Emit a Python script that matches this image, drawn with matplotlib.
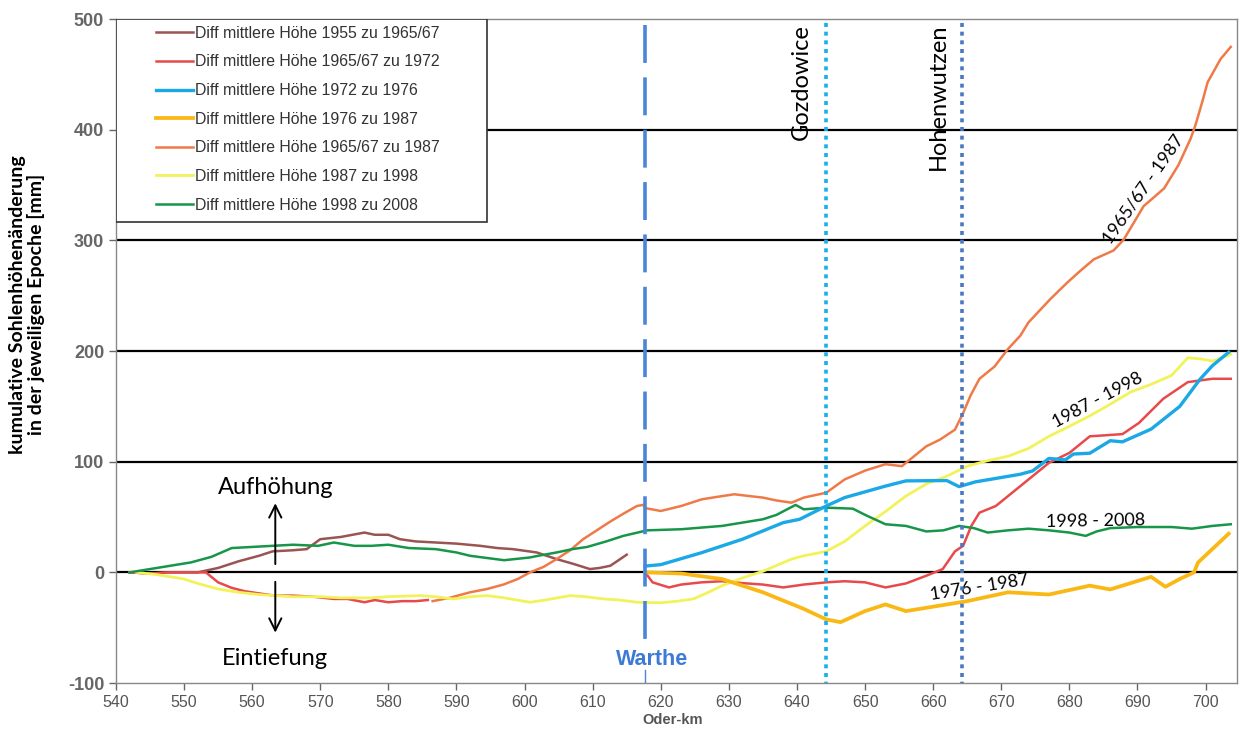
import numpy as np
import matplotlib.pyplot as plt
from matplotlib.patches import Rectangle

plt.rcParams['axes.unicode_minus'] = False

# ---- data (Oder-km, cumulative change in mm) ----
brown_km = [542, 545, 548, 552, 555, 558, 561, 563, 566, 568, 570, 573, 576.5, 578, 580, 581.7,
            584, 587, 590, 593.5, 596, 598.3, 601.8, 604.7, 607, 609.6, 611, 612.6, 615]
brown_mm = [0, -1, 0, 0, 4, 10, 15, 19, 20, 21, 30, 32, 36, 34, 34, 30,
            28, 27, 26, 24, 22, 21, 18, 12, 8, 3, 4, 6, 16]

red_km = [542, 545, 548, 551, 553.2, 555, 557, 558.9, 561, 563.3, 566, 569, 572, 574, 576.5, 578,
          580, 582, 584, 585.8, np.nan,
          617.7, 618.8, 621.2, 623, 626, 629, 632, 635, 638, 641, 644.3, 647, 650, 653, 656, 659,
          661.4, 663.2, 664.4, 665.6, 666.8, 669.2, 671, 674, 677, 680, 683, 685.5, 687.8, 690.2,
          693.8, 697.4, 701, 703.7]
red_mm = [0, -1, 0, 0, 0, -9, -14, -17, -19, -21, -21, -22, -24, -24, -27, -25,
          -27, -26, -26, -25, np.nan,
          0, -9, -13.6, -11, -9, -8, -9.7, -11, -13.6, -11, -9, -8, -9, -13.6, -10, -3,
          3, 19, 24, 42, 54, 60, 69, 84, 99, 108, 123, 124, 125, 135,
          157, 172, 175, 175]

blue_km = [617.7, 620, 626, 632, 638, 640.4, 644.3, 647, 653, 656, 662, 663.8, 666.2, 672.8, 674.6,
           677, 679.4, 680.6, 683, 686, 687.8, 692, 696.2, 699.2, 701, 703.4]
blue_mm = [5.7, 7, 17.8, 30, 45, 48, 60, 67.6, 78, 82.7, 83, 77.5, 81.8, 88.7, 91.7,
           103, 101.7, 107, 107.7, 119, 118, 129.5, 150, 174.7, 186.8, 199]

gold_km = [617.7, 623, 629, 635, 641, 644.3, 646.4, 650, 653, 656, 662, 665, 671, 677, 683, 686,
           692, 694.1, 696.2, 698.3, 698.9, 703.4]
gold_mm = [0, -1, -6, -18, -33, -42.5, -45, -35, -29, -35, -29, -26, -18, -20, -12, -15.4,
           -4, -13, -6, 0, 9, 35]

orange_km = [586.5, 589, 592, 594.5, 596.9, 599, 600.8, 602.8, 604.7, 606.7, 608.6, 610.6, 612.6,
             614.5, 616.5, 617.4, 617.8, 620, 623, 626, 628, 630.8, 633, 635, 637, 639.2, 641,
             644.3, 647, 650, 653, 655.4, 657, 659, 661, 663.2, 664.4, 665.5, 666.8, 669, 671,
             672.8, 674, 677.2, 679.7, 681.5, 683.6, 686.5, 688, 690.9, 693.9, 696, 697.8, 698.5,
             699.5, 700.3, 702.2, 703.7]
orange_mm = [-26, -23, -18, -15, -11, -6, 0, 5, 12, 20, 30, 38, 46,
             53, 60, 61, 58, 55.5, 60, 66, 68, 70.6, 69, 67.6, 65, 63, 67.6,
             72, 84, 92, 97.8, 96, 104, 114, 120, 129, 144, 160, 175, 186, 202,
             214, 226, 247, 262, 272, 283, 291, 301, 331, 347, 368, 392, 404,
             425, 443, 464, 475]

yellow_km = [543, 546, 548, 550, 552, 555, 558, 561, 563.3, 566, 570, 573, 577.3, 580, 584.7, 587,
             589.5, 592, 594.5, 597, 600.8, 603, 606.7, 609, 611.6, 614, 616.5, 620, 622.5, 624.8,
             627, 629, 632, 635, 639.2, 641, 644.3, 647, 650, 653, 656, 659, 662, 665, 668, 671,
             674, 677, 680, 683, 686, 689, 692, 695, 697.4, 699.2, 701, 703.7]
yellow_mm = [0, -2, -4, -6, -10, -15, -18, -20, -21, -22, -22, -23, -23, -22, -21, -22,
             -24, -22, -21, -23, -27, -25, -21, -22, -24, -25, -27, -27.5, -26, -24,
             -18, -12, -5, 1, 12, 15, 19, 28, 42, 55, 69, 80, 87, 96, 101, 105,
             112, 123, 132, 141.5, 152, 163, 170, 178, 194, 193, 191, 197]

green_km = [542, 545, 548, 551, 554, 557, 560, 563, 566, 569.7, 572, 575, 577.5, 580, 583, 587,
            590, 592, 594.5, 597, 600.8, 602, 604.7, 607, 609.2, 612, 614.5, 618, 623, 629, 632,
            635, 637, 639.8, 641, 644.3, 648.2, 650, 653, 656, 659, 661.5, 663.8, 666, 668, 671,
            674, 677, 680, 682.4, 684, 686, 690, 695, 698, 701, 703.7]
green_mm = [0, 3, 6, 9, 14, 22, 23, 24, 25, 24, 27, 24, 24, 25, 22, 21,
            18, 15, 13, 11, 13.5, 15, 18, 21, 23, 28, 33, 38, 39, 42, 45,
            48, 52, 61, 57, 58.5, 57.6, 52, 43.5, 42, 37, 38, 42, 40, 36, 38,
            39.5, 38, 36, 33, 37, 40, 41, 41, 39.5, 42, 43.5]

labels = ['Diff mittlere Höhe 1955 zu 1965/67',
          'Diff mittlere Höhe 1965/67 zu 1972',
          'Diff mittlere Höhe 1972 zu 1976',
          'Diff mittlere Höhe 1976 zu 1987',
          'Diff mittlere Höhe 1965/67 zu 1987',
          'Diff mittlere Höhe 1987 zu 1998',
          'Diff mittlere Höhe 1998 zu 2008']

warthe_km = 617.7
gozdowice_km = 644.3
hohenwutzen_km = 664.3

calibri = ['Lato', 'DejaVu Sans']
narrow = ['Liberation Sans Narrow', 'Liberation Sans']

fig = plt.figure(figsize=(12.4, 7.45), dpi=100)
ax = fig.add_axes([0.0935, 0.0832, 0.904, 0.891])

for yv in [0, 100, 200, 300, 400]:
    ax.axhline(yv, color='black', lw=1.6, zorder=1)

ax.plot(brown_km, brown_mm, color='#9b5454', lw=1.8, zorder=3, label=labels[0])
ax.plot(orange_km, orange_mm, color='#ef7a48', lw=1.8, zorder=3, label=labels[4])
ax.plot(red_km, red_mm, color='#e84a4c', lw=1.8, zorder=3, label=labels[1])
ax.plot(yellow_km, yellow_mm, color='#f2f25a', lw=2.0, zorder=3, label=labels[5])
ax.plot(green_km, green_mm, color='#17964a', lw=1.8, zorder=3, label=labels[6])
ax.plot(blue_km, blue_mm, color='#1aa8e6', lw=2.4, zorder=3, label=labels[2])
ax.plot(gold_km, gold_mm, color='#fab814', lw=2.7, zorder=3, label=labels[3])

# river marks
ax.plot([warthe_km, warthe_km], [495, -70], color='#4a86d8', lw=2.6,
        linestyle=(0, (10.5, 4)), zorder=4)
ax.plot([warthe_km, warthe_km], [-88, -100], color='#4a86d8', lw=1, zorder=4)
ax.text(warthe_km + 1, -79, 'Warthe', color='#3d7ad6', fontsize=15.5, fontweight='bold',
        family='Liberation Sans', ha='center', va='center')
ax.plot([gozdowice_km, gozdowice_km], [497, -100], color='#16b0ea', lw=2.6,
        linestyle=(0, (1.1, 1.3)), zorder=4)
ax.plot([hohenwutzen_km, hohenwutzen_km], [497, -100], color='#4a78c2', lw=2.6,
        linestyle=(0, (1.1, 1.3)), zorder=4)
ax.text(640.6, 496, 'Gozdowice', rotation=90, fontsize=17, family=calibri,
        ha='center', va='top')
ax.text(660.8, 496, 'Hohenwutzen', rotation=90, fontsize=17, family=calibri,
        ha='center', va='top')

# series labels
ax.text(690.8, 346, '1965/67 - 1987', rotation=55, fontsize=13, family=calibri,
        ha='center', va='center', rotation_mode='anchor')
ax.text(684.1, 156, '1987 - 1998', rotation=28, fontsize=13, family=calibri,
        ha='center', va='center', rotation_mode='anchor')
ax.text(683.8, 46.5, '1998 - 2008', rotation=1, fontsize=13, family=calibri,
        ha='center', va='center', rotation_mode='anchor')
ax.text(666.8, -13.5, '1976 - 1987', rotation=9, fontsize=13, family=calibri,
        ha='center', va='center', rotation_mode='anchor')

# Aufhöhung / Eintiefung
ax.annotate('', xy=(563.4, 65), xytext=(563.4, 5),
            arrowprops=dict(arrowstyle='->', color='black', lw=1.4, mutation_scale=22))
ax.annotate('', xy=(563.4, -57), xytext=(563.4, -6),
            arrowprops=dict(arrowstyle='->', color='black', lw=1.4, mutation_scale=22))
ax.text(563.4, 77, 'Aufhöhung', fontsize=17, family=calibri, ha='center', va='center')
ax.text(563.4, -78, 'Eintiefung', fontsize=17, family=calibri, ha='center', va='center')

# legend box
ax.add_patch(Rectangle((0, 0.694), 0.331, 0.306, transform=ax.transAxes,
                       facecolor='white', edgecolor='#333333', lw=1.2, zorder=5))
handles, labs = ax.get_legend_handles_labels()
order = [labs.index(l) for l in labels]
leg = ax.legend([handles[i] for i in order], [labs[i] for i in order],
                loc='upper left', bbox_to_anchor=(0.036, 0.99), borderaxespad=0,
                borderpad=0, frameon=False, handlelength=2.3, handletextpad=0.15,
                labelspacing=0.86, prop={'family': 'Liberation Sans', 'size': 11.4})
for t in leg.get_texts():
    t.set_color('#333333')
leg.set_zorder(6)

ax.set_xlim(540, 704.6)
ax.set_ylim(-100, 500)
ax.set_xticks(np.arange(540, 701, 10))
ax.set_yticks(np.arange(-100, 501, 100))
ax.tick_params(direction='out', length=5, color='#666666', width=1)
for lab in ax.get_xticklabels():
    lab.set_family(narrow)
    lab.set_fontsize(11.5)
    lab.set_color('#555555')
for lab in ax.get_yticklabels():
    lab.set_family('Liberation Sans')
    lab.set_fontweight('bold')
    lab.set_fontsize(13)
    lab.set_color('#666666')
for s in ax.spines.values():
    s.set_color('#888888')
    s.set_linewidth(1)

ax.set_xlabel('Oder-km', fontsize=10.5, fontweight='bold', color='#555555',
              family=narrow)
ax.xaxis.set_label_coords(0.497, -0.045)
ax.set_ylabel('kumulative Sohlenhöhenänderung\nin der jeweiligen Epoche [mm]',
              fontsize=14, fontweight='bold', family=calibri, linespacing=1.1)
ax.yaxis.set_label_coords(-0.063, 0.57)

fig.savefig('out.png', dpi=100)
